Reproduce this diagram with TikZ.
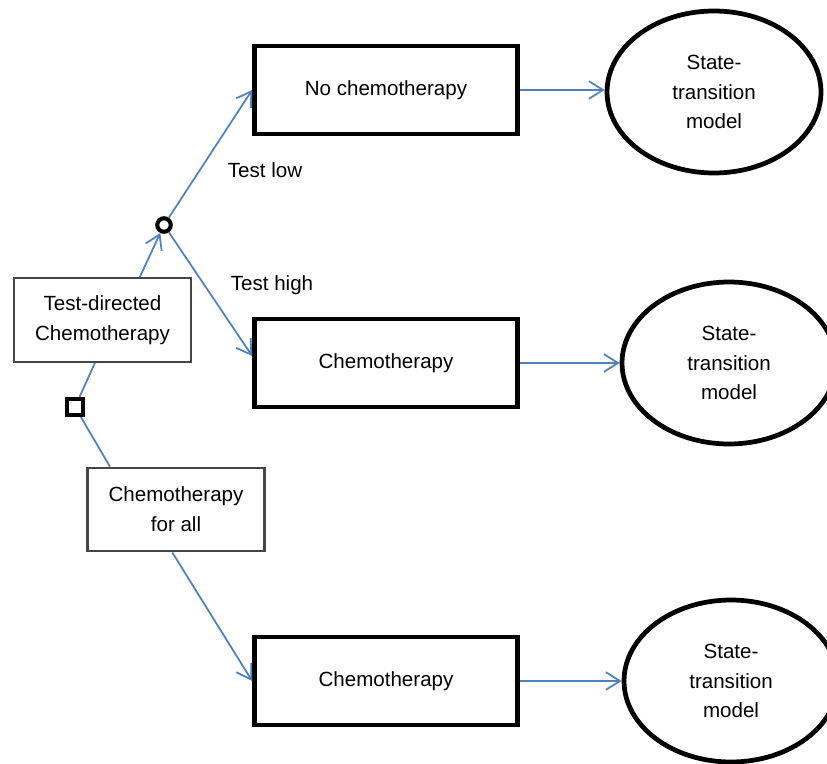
\documentclass[tikz,border=0pt]{standalone}
\usepackage{fontspec}
\setmainfont{Liberation Sans}
\usetikzlibrary{arrows,arrows.meta}
\usetikzlibrary{shapes.geometric}
\definecolor{pfeil}{RGB}{79,129,189}
\definecolor{rahmen}{RGB}{70,70,70}

\begin{document}
\begin{tikzpicture}[x=0.02cm, y=-0.02cm, font=\fontsize{11.7}{17}\selectfont,
	strategie/.style={draw=rahmen, line width=1.3pt, minimum width=3.54cm, minimum height=1.67cm, align=center, inner sep=0pt},
	arm/.style={draw, line width=2.7pt, minimum width=5.26cm, minimum height=1.76cm, inner sep=0pt},
	modell/.style={draw, ellipse, line width=2.7pt, minimum width=4.28cm, minimum height=3.24cm, align=center, inner sep=0pt},
	linie/.style={pfeil, line width=1pt},
	spitze/.style={linie, -{Straight Barb[length=8pt, width=10pt]}}]
	\useasboundingbox (0,0) rectangle (827,763);
	\node[draw, line width=2.3pt, minimum size=0.32cm, inner sep=0pt] (E) at (75,407) {};
		\node[draw, circle, line width=2.3pt, minimum size=0.27cm, inner sep=0pt] (Z) at (164,225) {};
		\node[strategie] (TD) at (102.5,320) {Test-directed\\Chemotherapy};
		\node[strategie] (CA) at (176,509.5) {Chemotherapy\\for all};
		\draw[linie] (E) -- (TD.-100);
		\draw[linie] (E) -- (CA.147);
		\draw[spitze] (TD.49) -- (Z);
		\node[arm] (A1) at (386,90) {No chemotherapy};
		\node[arm] (A2) at (386,363) {Chemotherapy};
		\node[arm] (A3) at (386,681) {Chemotherapy};
		\draw[spitze] (Z) -- (A1.west);
		\draw[spitze] (Z) -- (A2.177);
		\draw[spitze] (CA.-95) -- (A3.west);
		\node (TL) at (265,170) {Test low};
		\node (TH) at (272,285) {Test high};
		\node[modell] (M1) at (714,92) {State-\\transition\\model};
		\node[modell] (M2) at (729,363) {State-\\transition\\model};
		\node[modell] (M3) at (731,681) {State-\\transition\\model};
		\draw[spitze] (A1) -- (A1 -| M1.west);
		\draw[spitze] (A2) -- (M2);
		\draw[spitze] (A3) -- (M3);
\end{tikzpicture}
\end{document}
